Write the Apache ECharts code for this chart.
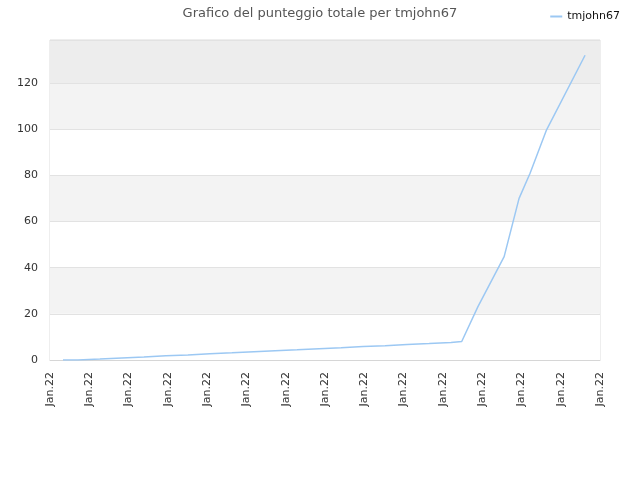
<!DOCTYPE html>
<html>
<head>
<meta charset="utf-8">
<script src="https://cdn.jsdelivr.net/npm/echarts@6/dist/echarts.min.js"></script>
<style>
  html, body { margin: 0; padding: 0; background: #fff; }
  #container { width: 640px; height: 480px; }
</style>
</head>
<body>
<div id="container"></div>
<script>
// x in label units (0 = first "Jan.22" tick), steps appear as pairs
var xs = [0.33, 0.71, 0.71, 1.27, 1.27, 1.83, 1.83, 2.39, 2.39, 2.95, 2.95, 3.51, 3.51,
          4.07, 4.07, 4.63, 4.63, 5.19, 5.19, 5.73, 5.73, 6.29, 6.29, 6.85, 6.85, 7.41, 7.41,
          7.97, 7.97, 8.53, 8.53, 9.09, 9.09, 9.65, 9.65, 10.21, 10.21, 10.48,
          10.89, 11.56, 11.94, 12.22, 12.64, 13.62];
var scores = [0, 0, 0.4, 0.4, 0.9, 0.9, 1.3, 1.3, 1.8, 1.8, 2.2, 2.2, 2.7,
              2.7, 3.1, 3.1, 3.6, 3.6, 4.0, 4.0, 4.4, 4.4, 4.9, 4.9, 5.3, 5.3, 5.8,
              5.8, 6.2, 6.2, 6.7, 6.7, 7.1, 7.1, 7.6, 7.6, 8.0, 8.0,
              23, 44.8, 70, 80.9, 99.7, 132];
var tickLabels = ['Jan.22', 'Jan.22', 'Jan.22', 'Jan.22', 'Jan.22', 'Jan.22', 'Jan.22', 'Jan.22',
                  'Jan.22', 'Jan.22', 'Jan.22', 'Jan.22', 'Jan.22', 'Jan.22', 'Jan.22'];
var seriesName = 'tmjohn67';

var points = [];
for (var i = 0; i < xs.length; i++) {
    points.push([xs[i], scores[i]]);
}

var myChart = echarts.init(document.getElementById('container'));
var option = {
    animation: false,
    textStyle: { fontFamily: 'DejaVu Sans' },
    title: {
        text: 'Grafico del punteggio totale per tmjohn67',
        left: 'center',
        top: 2,
        textStyle: { fontSize: 13, fontWeight: 'normal', color: '#555', fontFamily: 'DejaVu Sans' }
    },
    legend: {
        right: 15,
        top: 6,
        itemWidth: 12,
        itemHeight: 2,
        itemGap: 6,
        icon: 'rect',
        textStyle: { fontSize: 11, color: '#111', fontFamily: 'DejaVu Sans' },
        data: [seriesName]
    },
    grid: {
        left: 50, right: 40, top: 40, bottom: 120,
        show: true,
        borderColor: '#ddd',
        borderWidth: 1,
        backgroundColor: 'transparent'
    },
    xAxis: {
        type: 'value',
        min: 0,
        max: tickLabels.length - 1,
        interval: 1,
        axisLine: { show: true, lineStyle: { color: '#d6d6d6' } },
        axisTick: { show: false },
        splitLine: { show: false },
        axisLabel: {
            rotate: 90,
            fontSize: 11,
            color: '#333',
            margin: 12,
            fontFamily: 'DejaVu Sans',
            formatter: function (v) { return tickLabels[Math.round(v)] || ''; }
        }
    },
    yAxis: {
        type: 'value',
        min: 0,
        max: 138.6,
        interval: 20,
        axisLine: { show: false },
        axisTick: { show: false },
        axisLabel: { fontSize: 11, color: '#333', margin: 12, showMaxLabel: false },
        splitLine: { show: true, lineStyle: { color: '#e2e2e2', width: 1 } },
        splitArea: {
            show: true,
            areaStyle: { color: ['#ffffff', '#f3f3f3', '#ffffff', '#f3f3f3', '#ffffff', '#f3f3f3', '#ededed'] }
        }
    },
    series: [{
        name: seriesName,
        type: 'line',
        data: points,
        showSymbol: false,
        symbol: 'none',
        lineStyle: { color: '#9cc8f3', width: 1.5 },
        itemStyle: { color: '#9cc8f3' }
    }]
};
myChart.setOption(option);
</script>
</body>
</html>
